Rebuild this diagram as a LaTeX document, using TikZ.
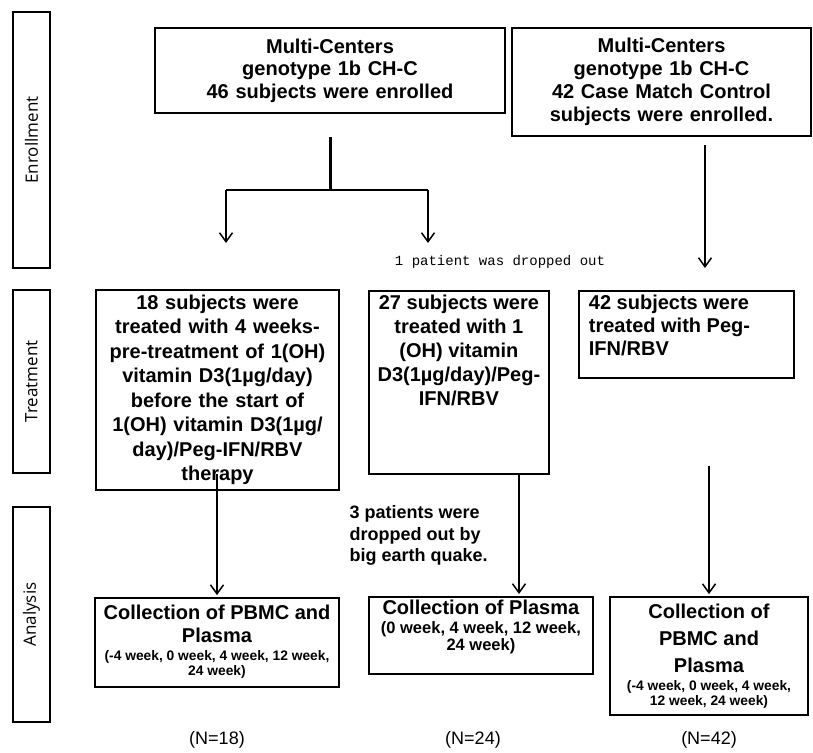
\documentclass[tikz,border=0pt]{standalone}
\usepackage{fontspec}
\setmainfont{Liberation Sans}
\newfontfamily\sidefont{Open Sans}
\newfontfamily\dropfont{Liberation Mono}
\usetikzlibrary{arrows.meta}

\tikzset{
	box/.style={draw, line width=1.8pt, inner sep=0pt, align=center,
		font=\bfseries\fontsize{20}{22.5}\selectfont},
	sidebox/.style={draw, line width=1.8pt, inner sep=0pt, rotate=90,
		minimum height=37pt, font=\sidefont\fontsize{17}{19}\selectfont},
	link/.style={line width=1.5pt},
	arr/.style={line width=1.5pt, shorten >=2pt, -{Straight Barb[length=9pt,width=13pt,line width=1.5pt]}},
}

\begin{document}
\begin{tikzpicture}[x=1pt,y=-1pt]
	\useasboundingbox (0,0) rectangle (813,752);

	% phases
	\node[sidebox, minimum width=256pt] (enrSide) at (31.5,140) {Enrollment};
	\node[sidebox, minimum width=183pt] (trtSide) at (31.5,381.5) {Treatment};
	\node[sidebox, minimum width=215pt] (anaSide) at (31.5,614.5) {Analysis};

	% enrollment
	\node[box, text width=350pt, minimum height=85pt] (enrA) at (330,70.5)
		{Multi-Centers\\genotype 1b CH-C\\46 subjects were enrolled};
	\node[box, text width=299pt, minimum height=108pt,
		font=\bfseries\fontsize{20}{23}\selectfont] (enrB) at (661.5,82)
		{Multi-Centers\\genotype 1b CH-C\\42 Case Match Control\\subjects were enrolled.};

	\coordinate (split) at (330,137);
	\coordinate (fork) at (330,190);
	\coordinate (forkL) at (226,190);
	\coordinate (forkR) at (428,190);
	\coordinate (endL) at (226,245);
	\coordinate (endR) at (428,245);
	\coordinate (ctlTop) at (705,145);
	\coordinate (ctlEnd) at (705,270);

	\draw[link, line width=3pt] (split) -- (fork);
	\draw[link] (forkL) -- (forkR);
	\draw[arr] (forkL) -- (endL);
	\draw[arr] (forkR) -- (endR);
	\draw[arr] (ctlTop) -- (ctlEnd);

	\node[font=\dropfont\fontsize{14}{16}\selectfont] (drop1) at (500,262) {1 patient was dropped out};

	% treatment
	\node[box, text width=243pt, minimum height=200pt,
		font=\bfseries\fontsize{20}{24.5}\selectfont] (trtA) at (217.5,390)
		{18 subjects were\\treated with 4 weeks-\\pre-treatment of 1(OH)\\vitamin D3(1µg/day)\\before the start of\\1(OH) vitamin D3(1µg/\\day)/Peg-IFN/RBV\\therapy};
	\node[box, anchor=north west, font=\bfseries\fontsize{20}{24}\selectfont] (trtB) at (368,290)
		{\parbox[t][183pt][t]{180pt}{\centering\vspace{4pt}27 subjects were\\treated with 1\\(OH) vitamin\\D3(1µg/day)/Peg-\\IFN/RBV}};
	\node[box, anchor=north west, font=\bfseries\fontsize{20}{23}\selectfont] (trtC) at (578,290)
		{\parbox[t][87pt][t]{215pt}{\raggedright\leftskip=10pt\vspace{4pt}42 subjects were\\treated with Peg-\\IFN/RBV}};

	\node[font=\bfseries\fontsize{18}{21.5}\selectfont, align=left, anchor=north west] (drop3) at (346,502)
		{3 patients were\\dropped out by\\big earth quake.};

	% analysis
	\node[box, minimum height=89pt] (anaA) at (217,642.5)
		{\parbox{244pt}{\centering Collection of PBMC and\\Plasma\par\vspace{3pt}
		\fontsize{13.8}{15}\selectfont(-4 week, 0 week, 4 week, 12 week,\\24 week)\par\vspace{2pt}}};
	\node[box, anchor=north west] (anaB) at (368,596)
		{\parbox[t][77pt][t]{224pt}{\centering\vspace{3pt}Collection of Plasma\par\vspace{2pt}
		\fontsize{16.5}{17}\selectfont(0 week, 4 week, 12 week,\\24 week)}};
	\node[box, minimum height=118pt, font=\bfseries\fontsize{20}{27}\selectfont] (anaC) at (709,656)
		{\parbox{198pt}{\centering Collection of\\PBMC and\\Plasma\par\vspace{3pt}
		\fontsize{13.8}{15}\selectfont(-4 week, 0 week, 4 week,\\12 week, 24 week)}};

	\coordinate (trtAout) at (217,474);
	\coordinate (trtBout) at (519,473);
	\coordinate (trtCout) at (709,466);
	\draw[arr] (trtAout) -- (anaA.north);
	\draw[arr] (trtBout) -- (trtBout |- anaB.north);
	\draw[arr] (trtCout) -- (anaC.north);

	% sizes
	\node[font=\fontsize{18}{20}\selectfont] (nA) at (217,740) {(N=18)};
	\node[font=\fontsize{18}{20}\selectfont] (nB) at (473,740) {(N=24)};
	\node[font=\fontsize{18}{20}\selectfont] (nC) at (709,740) {(N=42)};
\end{tikzpicture}
\end{document}
